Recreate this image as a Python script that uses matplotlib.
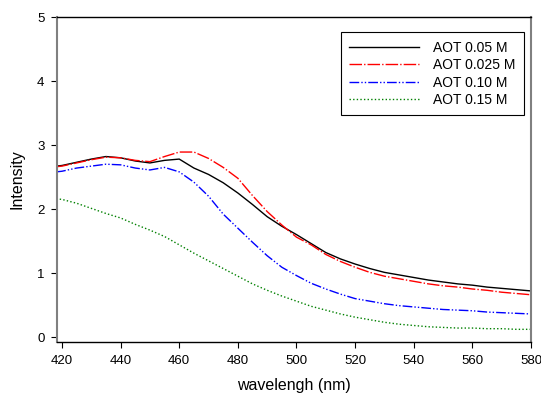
import matplotlib
matplotlib.use("Agg")
import matplotlib.pyplot as plt

# wavelength grid (nm) and intensities
wavelength = [418, 420, 425, 430, 435, 440, 445, 450, 455, 460, 465, 470, 475,
              480, 485, 490, 495, 500, 505, 510, 515, 520, 525, 530, 535, 540,
              545, 550, 555, 560, 565, 570, 575, 580]

aot_005 = [2.67, 2.68, 2.73, 2.78, 2.82, 2.80, 2.75, 2.72, 2.76, 2.78, 2.64, 2.54,
           2.41, 2.25, 2.07, 1.88, 1.73, 1.60, 1.46, 1.32, 1.22, 1.14, 1.07, 1.01,
           0.97, 0.93, 0.89, 0.86, 0.83, 0.81, 0.78, 0.76, 0.74, 0.72]
aot_0025 = [2.66, 2.67, 2.72, 2.77, 2.81, 2.80, 2.76, 2.74, 2.82, 2.89, 2.89, 2.79,
            2.65, 2.48, 2.21, 1.96, 1.75, 1.56, 1.44, 1.29, 1.18, 1.09, 1.01, 0.95,
            0.91, 0.87, 0.83, 0.80, 0.78, 0.75, 0.73, 0.70, 0.68, 0.66]
aot_010 = [2.58, 2.59, 2.64, 2.67, 2.70, 2.69, 2.64, 2.61, 2.65, 2.58, 2.42, 2.20,
           1.92, 1.70, 1.48, 1.27, 1.09, 0.96, 0.84, 0.75, 0.67, 0.60, 0.56, 0.52,
           0.49, 0.47, 0.45, 0.43, 0.42, 0.41, 0.39, 0.38, 0.37, 0.36]
aot_015 = [2.16, 2.15, 2.09, 2.01, 1.93, 1.86, 1.76, 1.67, 1.57, 1.44, 1.31, 1.19,
           1.07, 0.95, 0.83, 0.73, 0.64, 0.56, 0.48, 0.42, 0.36, 0.31, 0.27, 0.23,
           0.20, 0.18, 0.16, 0.15, 0.14, 0.14, 0.13, 0.13, 0.12, 0.12]

labels = ['AOT 0.05 M', 'AOT 0.025 M', 'AOT 0.10 M', 'AOT 0.15 M']

plt.rcParams['font.family'] = ['Liberation Sans', 'DejaVu Sans']

fig = plt.figure(figsize=(5.41, 3.97), dpi=100)
ax = fig.add_axes([57/541, 55/397, 474/541, 325/397])

ax.plot(wavelength, aot_005, color='black', lw=1.0, label=labels[0])
ax.plot(wavelength, aot_0025, color='red', lw=1.0, dashes=(9, 1.5, 1, 1.5), label=labels[1])
ax.plot(wavelength, aot_010, color='blue', lw=1.0, dashes=(7, 1.5, 1, 1.5, 1, 1.5), label=labels[2])
ax.plot(wavelength, aot_015, color='green', lw=1.0, dashes=(1, 1.6), label=labels[3])

ax.set_xlim(418.3, 580)
ax.set_ylim(-0.078, 5)
ax.set_xticks(range(420, 581, 20))
ax.set_yticks(range(0, 6))
ax.tick_params(direction='out', length=4, width=0.8, labelsize=9.5, pad=5, colors='black')

for side in ['left', 'right']:
    ax.spines[side].set_color('#808080')
    ax.spines[side].set_linewidth(1.5)
for side in ['top', 'bottom']:
    ax.spines[side].set_color('black')
    ax.spines[side].set_linewidth(1.0)

ax.set_xlabel('wavelengh (nm)', fontsize=11.5, labelpad=8)
ax.set_ylabel('Intensity', fontsize=11.5, labelpad=9)

leg = ax.legend(loc='upper right', bbox_to_anchor=(0.985, 0.953), fontsize=10,
                handlelength=5.0, handletextpad=1.05, labelspacing=0.25,
                borderpad=0.6, fancybox=False, framealpha=1, borderaxespad=0)
leg.get_frame().set_edgecolor('black')
leg.get_frame().set_linewidth(0.8)

fig.savefig('out.png', dpi=100)
